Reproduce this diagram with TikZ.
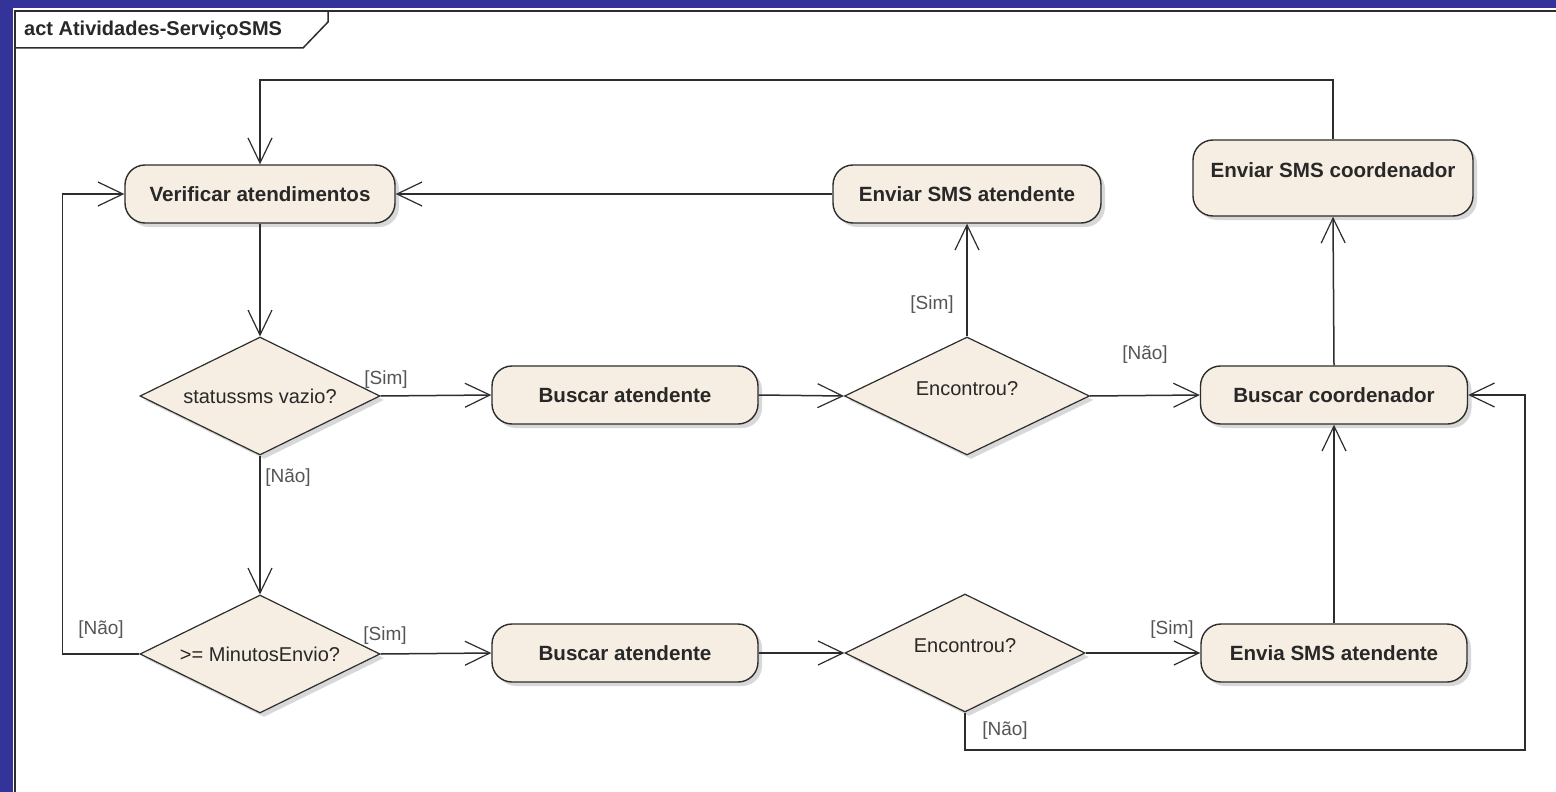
\documentclass[tikz,border=0pt]{standalone}
\usepackage{fontspec}
\setmainfont{Liberation Sans}
\usetikzlibrary{arrows.meta,shapes.geometric,shadows}

\definecolor{frameblue}{RGB}{51,51,153}
\definecolor{actfill}{RGB}{246,238,226}
\definecolor{edgegray}{RGB}{45,45,45}
\definecolor{labelgray}{RGB}{85,85,85}
\definecolor{textdark}{RGB}{40,40,40}

\tikzset{
  softshadow/.style={drop shadow={shadow xshift=4pt, shadow yshift=-4pt, opacity=0.3, fill=gray}},
  action/.style={draw=edgegray, line width=1.4pt, rounded corners=20pt, fill=actfill,
    minimum height=58pt, inner sep=0pt, text height=14pt, text depth=0pt,
    font=\fontsize{20.6}{24}\selectfont\bfseries, text=textdark, softshadow},
  decision/.style={diamond, aspect=2, draw=edgegray, line width=1.2pt, fill=actfill,
    minimum width=240pt, minimum height=118pt, inner sep=0pt, text height=14pt, text depth=0pt,
    font=\fontsize{20}{24}\selectfont, text=textdark, softshadow},
  flow/.style={draw=edgegray, line width=1.5pt,
    -{Straight Barb[length=25pt,width=24pt,line width=1.2pt]}},
  guard/.style={font=\fontsize{19}{22}\selectfont, text=labelgray, inner sep=1pt},
}

\begin{document}
\begin{tikzpicture}[x=1pt, y=-1pt]
  \useasboundingbox (0,0) rectangle (1556,792);
  % window background and diagram frame
  \fill[frameblue] (0,0) rectangle (1556,792);
  \fill[white] (13,8) rectangle (1556,792);
  \draw[edgegray, line width=2pt] (15,792) -- (15,11) -- (1556,11);
  \draw[edgegray, line width=1.5pt] (15,48) -- (303,48) -- (328,22) -- (328,11);
  \node[anchor=west, font=\fontsize{20}{24}\selectfont\bfseries, text=textdark, inner sep=0pt]
    (title) at (24,30) {act Atividades-ServiçoSMS};

  % activities and decisions
  \node[action, minimum width=270pt] (verif) at (260,194) {Verificar atendimentos};
  \node[action, minimum width=268pt] (smsAt) at (967,194) {Enviar SMS atendente};
  \node[action, minimum width=280pt, minimum height=76pt, text depth=16pt] (smsCo) at (1333,178) {Enviar SMS coordenador};

  \node[decision] (vazio) at (260,396) {statussms vazio?};
  \node[action, minimum width=266pt] (busA1) at (625,395) {Buscar atendente};
  \node[decision, minimum width=245pt, text depth=16pt] (enc1) at (967,396) {Encontrou?};
  \node[action, minimum width=267pt] (busCo) at (1334,395) {Buscar coordenador};

  \node[decision] (minut) at (260,654) {>= MinutosEnvio?};
  \node[action, minimum width=266pt] (busA2) at (625,653) {Buscar atendente};
  \node[decision, minimum width=240pt, text depth=16pt] (enc2) at (965,653) {Encontrou?};
  \node[action, minimum width=266pt] (envia) at (1334,653) {Envia SMS atendente};

  % loop corners
  \coordinate (topRail) at (260,80);
  \coordinate (bottomRail) at (1525,750);

  % control flows
  \draw[flow] (verif.south) -- (vazio.north);
  \draw[flow] (vazio.east) -- (busA1.west);
  \draw[flow] (vazio.south) -- (minut.north);
  \draw[flow] (minut.east) -- (busA2.west);
  \draw[flow] (minut.west) -- ++(-77,0) |- (verif.west);
  \draw[flow] (busA1.east) -- (enc1.west);
  \draw[flow] (enc1.north) -- (smsAt.south);
  \draw[flow] (enc1.east) -- (busCo.west);
  \draw[flow] (smsAt.west) -- (verif.east);
  \draw[flow] (busCo.north) -- (smsCo.south);
  \draw[flow] (smsCo.north) |- (topRail) -- (verif.north);
  \draw[flow] (busA2.east) -- (enc2.west);
  \draw[flow] (enc2.east) -- (envia.west);
  \draw[flow] (enc2.south) |- (bottomRail) |- (busCo.east);
  \draw[flow] (envia.north) -- (busCo.south);

  % guards
  \node[guard] (g1) at (386,380) {[Sim]};
  \node[guard] (g2) at (288,478) {[Não]};
  \node[guard] (g3) at (385,636) {[Sim]};
  \node[guard] (g4) at (101,630) {[Não]};
  \node[guard] (g5) at (932,305) {[Sim]};
  \node[guard] (g6) at (1145,355) {[Não]};
  \node[guard] (g7) at (1172,630) {[Sim]};
  \node[guard] (g8) at (1005,731) {[Não]};
\end{tikzpicture}
\end{document}
